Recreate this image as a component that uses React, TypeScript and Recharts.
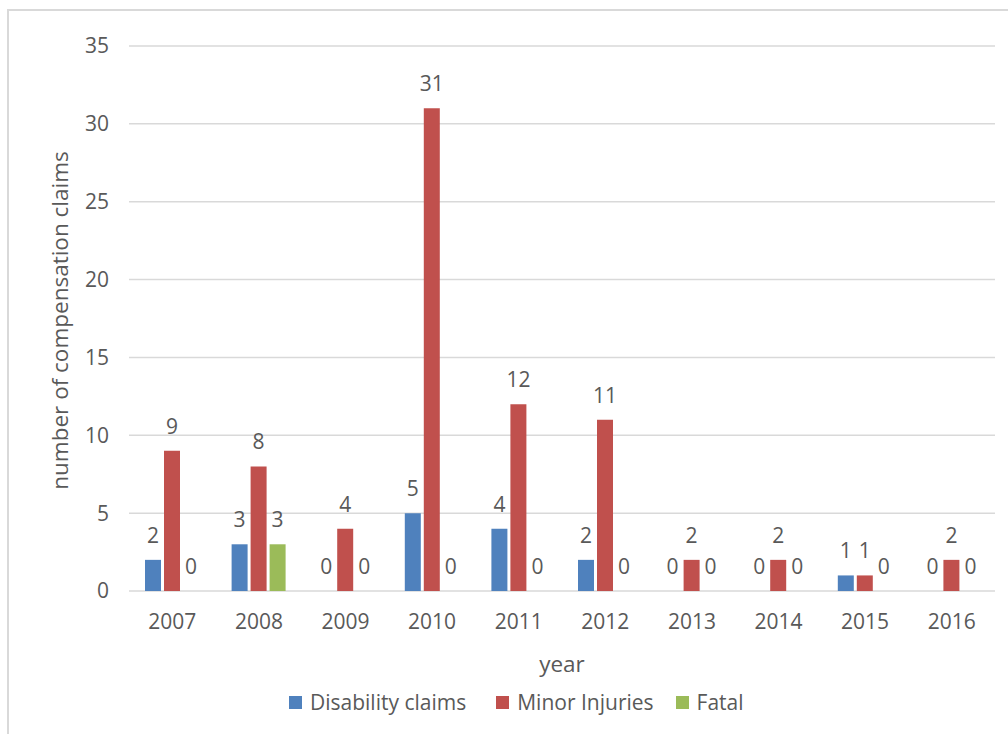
import { BarChart, Bar, XAxis, YAxis, CartesianGrid, Legend, LabelList } from "recharts";

const years = ["2007", "2008", "2009", "2010", "2011", "2012", "2013", "2014", "2015", "2016"];
const disability = [2, 3, 0, 5, 4, 2, 0, 0, 1, 0];
const minor = [9, 8, 4, 31, 12, 11, 2, 2, 1, 2];
const fatal = [0, 3, 0, 0, 0, 0, 0, 0, 0, 0];
const yTicks = [0, 5, 10, 15, 20, 25, 30, 35];

const FONT = "'Open Sans', 'Noto Sans', sans-serif";
const TEXT = "#595959";
const SIZE = 21;
const TITLE_SIZE = 22.5;

const series = [
  { key: "disability", name: "Disability claims", color: "#4F81BD", gapAfter: 30 },
  { key: "minor", name: "Minor Injuries", color: "#C0504D", gapAfter: 22 },
  { key: "fatal", name: "Fatal", color: "#9BBB59", gapAfter: 0 },
];

const data = years.map((year, i) => ({
  year,
  disability: disability[i],
  minor: minor[i],
  fatal: fatal[i],
}));

function LegendContent() {
  return (
    <div style={{ display: "flex", justifyContent: "flex-start", paddingTop: 8, paddingLeft: 289, fontFamily: FONT, fontSize: SIZE, color: TEXT, lineHeight: "20px" }}>
      {series.map((s) => (
        <div key={s.key} style={{ display: "flex", alignItems: "center", marginRight: s.gapAfter }}>
          <span style={{ width: 13, height: 13, background: s.color, marginRight: 8, display: "inline-block" }} />
          {s.name}
        </div>
      ))}
    </div>
  );
}

function YLabel({ viewBox }: { viewBox?: { x: number; y: number; width: number; height: number } }) {
  if (!viewBox) return null;
  const x = viewBox.x + 59;
  const y = viewBox.y + viewBox.height / 2 + 2;
  return (
    <text x={x} y={y} transform={`rotate(-90, ${x}, ${y})`} textAnchor="middle" dominantBaseline="central" fill={TEXT} fontFamily={FONT} fontSize={TITLE_SIZE}>
      number of compensation claims
    </text>
  );
}

function ValueLabel(props: any) {
  const { x, y, width, value } = props;
  if (value === undefined || value === null) return null;
  return (
    <text x={Number(x) + Number(width) / 2} y={Number(y) - 25} textAnchor="middle" dominantBaseline="central" fill={TEXT} fontFamily={FONT} fontSize={SIZE}>
      {value}
    </text>
  );
}

export default function App() {
  return (
    <div style={{ position: "relative", width: 1008, height: 734, background: "#fff", overflow: "hidden" }}>
      <style>{`body{margin:0}`}</style>
      <div style={{ position: "absolute", left: 7, top: 9, width: 1020, height: 760, border: "2px solid #D9D9D9", boxSizing: "border-box" }} />
      <BarChart
        width={1008}
        height={734}
        data={data}
        margin={{ top: 46, right: 13, left: 0, bottom: 0 }}
        barSize={16}
        barGap={3}
        style={{ position: "absolute", left: 0, top: 0 }}
      >
        <CartesianGrid vertical={false} stroke="#D9D9D9" strokeWidth={1.5} />
        <XAxis
          dataKey="year"
          axisLine={false}
          tickLine={false}
          tickSize={0}
          tickMargin={23}
          height={93}
          tick={{ fill: TEXT, fontSize: SIZE, fontFamily: FONT }}
          label={{ value: "year", position: "insideBottom", offset: 12, fill: TEXT, fontSize: TITLE_SIZE, fontFamily: FONT }}
        />
        <YAxis
          domain={[0, 35]}
          ticks={yTicks}
          axisLine={false}
          tickLine={false}
          tickSize={0}
          tickMargin={20}
          width={129}
          tick={{ fill: TEXT, fontSize: SIZE, fontFamily: FONT }}
          label={<YLabel />}
        />
        <Legend verticalAlign="bottom" height={50} content={<LegendContent />} />
        {series.map((s) => (
          <Bar key={s.key} dataKey={s.key} name={s.name} fill={s.color} minPointSize={0.01} isAnimationActive={false}>
            <LabelList dataKey={s.key} content={<ValueLabel />} />
          </Bar>
        ))}
      </BarChart>
    </div>
  );
}
